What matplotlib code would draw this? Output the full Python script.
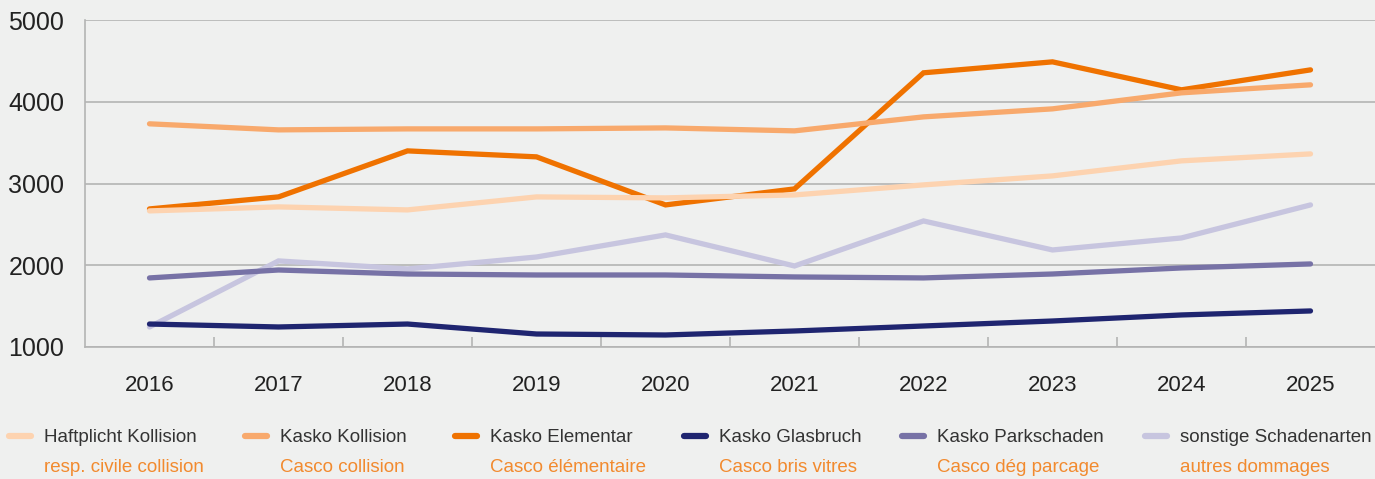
import matplotlib
matplotlib.use("Agg")
from matplotlib import pyplot as plt
from matplotlib.lines import Line2D

years = ["2016", "2017", "2018", "2019", "2020", "2021", "2022", "2023", "2024", "2025"]

haftpflicht_kollision = [2665, 2714, 2677, 2836, 2824, 2860, 2983, 3093, 3277, 3362]
kasko_kollision = [3730, 3656, 3668, 3668, 3680, 3644, 3815, 3913, 4109, 4207]
kasko_elementar = [2689, 2836, 3399, 3326, 2738, 2934, 4354, 4488, 4146, 4390]
kasko_glasbruch = [1281, 1245, 1281, 1159, 1147, 1196, 1257, 1318, 1392, 1441]
kasko_parkschaden = [1845, 1942, 1893, 1881, 1881, 1857, 1845, 1893, 1967, 2016]
sonstige = [1245, 2053, 1955, 2101, 2371, 1991, 2542, 2187, 2334, 2738]

labels_de = ["Haftplicht Kollision", "Kasko Kollision", "Kasko Elementar",
             "Kasko Glasbruch", "Kasko Parkschaden", "sonstige Schadenarten"]
labels_fr = ["resp. civile collision", "Casco collision", "Casco élémentaire",
             "Casco bris vitres", "Casco dég parcage", "autres dommages"]
colors = ["#FDD3B0", "#F8A96C", "#EF7200", "#1F2570", "#7772A6", "#C7C5DF"]
series = [haftpflicht_kollision, kasko_kollision, kasko_elementar,
          kasko_glasbruch, kasko_parkschaden, sonstige]

bg = "#EFF0EF"
grid_col = "#B4B4B4"
plt.rcParams["font.family"] = ["Liberation Sans", "DejaVu Sans"]

fig = plt.figure(figsize=(13.75, 4.79), dpi=100, facecolor=bg)
ax = fig.add_axes([85 / 1375, 1 - 347 / 479, 1 - 85 / 1375, (347 - 20) / 479])
ax.set_facecolor(bg)

x = list(range(len(years)))
for i in reversed(range(len(series))):
    ax.plot(x, series[i], color=colors[i], lw=3.8, solid_capstyle="round",
            solid_joinstyle="miter", zorder=3)

ax.set_xlim(-0.5, len(years) - 0.5)
ax.set_ylim(1000, 5000)
ax.set_yticks([1000, 2000, 3000, 4000, 5000])
ax.yaxis.grid(True, color=grid_col, lw=1.2)
ax.set_axisbelow(True)
ax.set_xticks(x)
ax.set_xticklabels(years)
ax.set_xticks([i + 0.5 for i in x[:-1]], minor=True)
ax.tick_params(axis="x", which="major", length=0, pad=20, labelsize=16, labelcolor="#222222")
ax.tick_params(axis="x", which="minor", direction="in", length=7, color=grid_col, width=1.2)
ax.tick_params(axis="y", length=0, pad=15, labelsize=18, labelcolor="#222222")
for s in ["top", "right"]:
    ax.spines[s].set_visible(False)
for s in ["left", "bottom"]:
    ax.spines[s].set_color(grid_col)
    ax.spines[s].set_linewidth(1.2)

# legend drawn by hand: two text rows per entry
handle_x = [9, 245, 455, 684, 902, 1145]
for i in range(len(labels_de)):
    x0 = handle_x[i] / 1375
    y0 = 1 - 436 / 479
    fig.add_artist(Line2D([x0, x0 + 22 / 1375], [y0, y0], color=colors[i], lw=4.5,
                          solid_capstyle="round", transform=fig.transFigure))
    tx = (handle_x[i] + 35) / 1375
    fig.text(tx, 1 - 438 / 479, labels_de[i], fontsize=13.5, color="#333333", va="center")
    fig.text(tx, 1 - 467 / 479, labels_fr[i], fontsize=13.5, color="#F28A2E", va="center")

fig.savefig("out.png", dpi=100, facecolor=bg)
